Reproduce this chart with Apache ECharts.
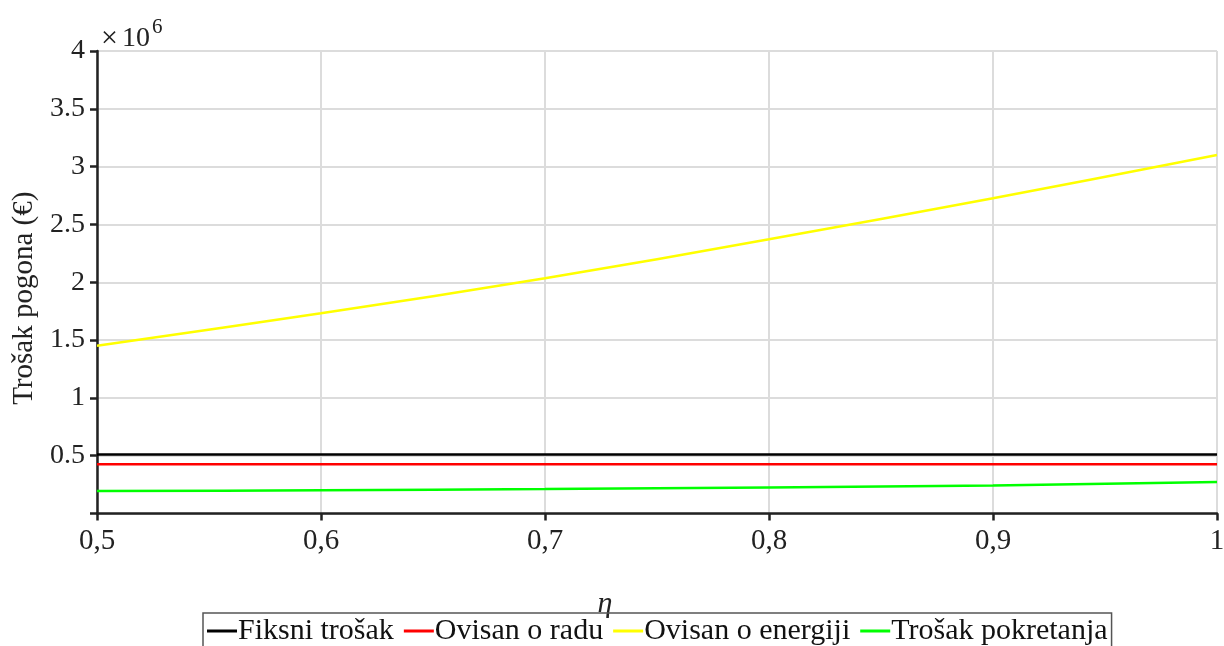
<!DOCTYPE html>
<html><head><meta charset="utf-8">
<script src="https://cdn.jsdelivr.net/npm/echarts@6/dist/echarts.min.js"></script>
<style>html,body{margin:0;padding:0;background:#fff}#c{width:1224px;height:646px}</style>
</head><body><div id="c"></div>
<script>
const etaValues = [0.5, 0.6, 0.7, 0.8, 0.9, 1.0];
const fiksni = [0.51e6, 0.51e6, 0.51e6, 0.51e6, 0.51e6, 0.51e6];
const ovisanRadu = [0.427e6, 0.427e6, 0.427e6, 0.427e6, 0.427e6, 0.427e6];
const ovisanEnergiji = [1.451e6, 1.731e6, 2.034e6, 2.371e6, 2.726e6, 3.10e6];
const pokretanja = [0.194e6, 0.201e6, 0.212e6, 0.225e6, 0.243e6, 0.272e6];
const seriesNames = ['Fiksni trošak', 'Ovisan o radu', 'Ovisan o energiji', 'Trošak pokretanja'];
const seriesColors = ['#000000', '#ff0000', '#ffff00', '#00ff00'];
const seriesData = [fiksni, ovisanRadu, ovisanEnergiji, pokretanja];

const font = 'Liberation Serif';
const chart = echarts.init(document.getElementById('c'));
chart.setOption({
  animation: false,
  textStyle: { fontFamily: font },
  title: {
    left: 96, top: 5,
    text: '{a|×}{c|10}{b|6}',
    textStyle: {
      fontWeight: 'normal',
      rich: {
        a: { fontFamily: font, fontSize: 30, fontWeight: 'normal', color: '#222', padding: [14, 4, 0, 0] },
        c: { fontFamily: font, fontSize: 28, fontWeight: 'normal', color: '#222', padding: [14, 0, 0, 0] },
        b: { fontFamily: font, fontSize: 21, fontWeight: 'normal', color: '#222', padding: [0, 0, 10, 2] }
      }
    }
  },
  grid: { left: 97, right: 7, top: 51, bottom: 132.5, outerBoundsMode: 'none', containLabel: false },
  legend: {
    bottom: -6, left: 203,
    data: seriesNames,
    icon: 'rect', itemWidth: 30, itemHeight: 3, itemGap: 10,
    borderColor: '#555', borderWidth: 1.5, borderRadius: 0,
    padding: [3, 4, 6, 4],
    textStyle: { fontFamily: font, fontSize: 30, color: '#111', padding: [0, 0, 0, -4] }
  },
  xAxis: {
    type: 'value', min: 0.5, max: 1, interval: 0.1,
    name: 'η', nameLocation: 'middle', nameGap: 76,
    nameTextStyle: { fontFamily: font, fontSize: 30, fontStyle: 'italic', color: '#222', padding: [0, 104, 0, 0] },
    axisLine: { show: true, lineStyle: { color: '#222', width: 2.5 } },
    axisTick: { show: true, inside: false, length: 7, lineStyle: { color: '#222', width: 2.5 } },
    axisLabel: {
      fontFamily: font, fontSize: 29, color: '#222', margin: 13,
      formatter: v => (Math.round(v * 10) / 10).toString().replace('.', ',')
    },
    splitLine: { show: true, lineStyle: { color: '#dcdcdc', width: 2 } }
  },
  yAxis: {
    type: 'value', min: 0, max: 4e6, interval: 0.5e6,
    name: 'Trošak pogona (€)', nameLocation: 'middle', nameGap: 52, nameRotate: 90,
    nameTextStyle: { fontFamily: font, fontSize: 29, color: '#222', padding: [0, 32, 0, 0] },
    axisLine: { show: true, lineStyle: { color: '#222', width: 2.5 } },
    axisTick: { show: true, inside: false, length: 7, lineStyle: { color: '#222', width: 2.5 } },
    axisLabel: {
      fontFamily: font, fontSize: 28, color: '#222', margin: 12,
      formatter: v => v === 0 ? '' : String(v / 1e6)
    },
    splitLine: { show: true, lineStyle: { color: '#dcdcdc', width: 2 } }
  },
  series: seriesNames.map((n, i) => ({
    name: n, type: 'line', showSymbol: false, smooth: 0.3,
    color: seriesColors[i],
    lineStyle: { width: 2.5, color: seriesColors[i] },
    data: etaValues.map((x, j) => [x, seriesData[i][j]])
  }))
});
</script></body></html>
